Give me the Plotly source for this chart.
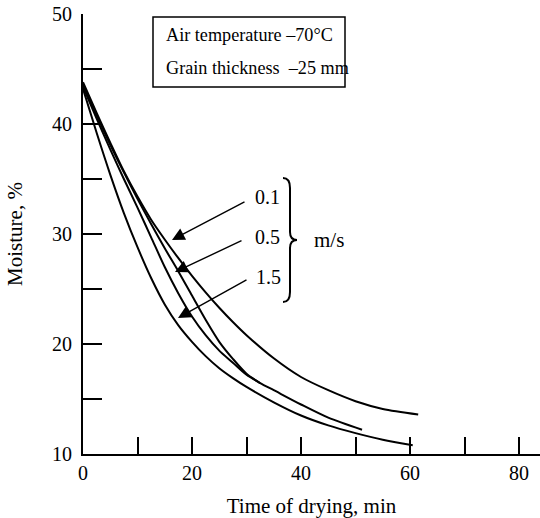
import plotly.graph_objects as go

# ---- data ----
# 0.1 m/s (top curve)
time_01 = [0, 2.5, 5, 7.5, 10, 12.5, 15, 17.5, 20, 22.5, 25, 27.5, 30, 35, 40, 45, 50, 55, 61.5]
moist_01 = [43.8, 41.0, 38.3, 35.7, 33.4, 31.3, 29.5, 27.8, 26.2, 24.7, 23.3, 22.0, 20.8, 18.7, 17.0, 15.8, 14.8, 14.1, 13.6]

# 0.5 m/s (middle curve)
time_05 = [0, 2.5, 5, 7.5, 10, 12.5, 15, 17.5, 20, 22.5, 25, 27.5, 30, 32.5, 35, 40, 45, 51.2]
moist_05 = [43.4, 40.5, 37.7, 35.0, 32.4, 29.7, 27.0, 24.6, 22.5, 20.8, 19.4, 18.3, 17.2, 16.45, 15.8, 14.5, 13.3, 12.2]

# second stroke of the 0.5 m/s curve (upper part, pointed at by the arrow)
time_05b = [0, 2.5, 5, 7.5, 10, 12.5, 15, 17.5, 20, 22.5, 25, 27.5, 30, 32.5]
moist_05b = [43.6, 40.8, 38.1, 35.6, 33.2, 30.9, 28.7, 26.6, 24.4, 22.2, 20.2, 18.65, 17.3, 16.45]

# 1.5 m/s (lowest curve)
time_15 = [0, 2.5, 5, 7.5, 10, 12.5, 15, 17.5, 20, 22.5, 25, 27.5, 30, 35, 40, 45, 50, 55, 60.5]
moist_15 = [43.2, 39.2, 35.4, 31.9, 28.8, 26.0, 23.6, 21.7, 20.2, 18.9, 17.8, 16.9, 16.1, 14.7, 13.5, 12.6, 11.9, 11.3, 10.8]

x_ticks = [0, 10, 20, 30, 40, 50, 60, 70, 80]
x_tick_text = ["0", "", "20", "", "40", "", "60", "", "80"]
y_ticks = [10, 15, 20, 25, 30, 35, 40, 45, 50]
y_tick_text = ["10", "", "20", "", "30", "", "40", "", "50"]

speed_labels = ["0.1", "0.5", "1.5"]
box_lines = ["Air temperature \u201370\u00b0C", "Grain thickness\u00a0 \u201325 mm"]

FONT = "Liberation Serif"

# ---- layout geometry (pixels) ----
W, H = 540, 518
L, T, R, B = 83, 14, 0, 64
PW, PH = W - L - R, H - T - B


def px(x):
    return (x - L) / PW


def py(y):
    return (T + PH - y) / PH


fig = go.Figure()
for t, m in [(time_01, moist_01), (time_05, moist_05), (time_05b, moist_05b), (time_15, moist_15)]:
    fig.add_trace(go.Scatter(x=t, y=m, mode="lines",
                             line=dict(color="black", width=2, shape="spline", smoothing=0.8),
                             showlegend=False, hoverinfo="skip"))

ann = []
# box text
for i, txt in enumerate(box_lines):
    ann.append(dict(text=txt, xref="paper", yref="paper", x=px(164), y=py(35 + 33 * i), xanchor="left",
                    yanchor="middle", showarrow=False, font=dict(family=FONT, size=18.2, color="black")))
# speed labels + arrows
label_pos = [(267, 197), (267, 237), (268, 277)]
tips = [(172, 240), (175, 272), (178, 318)]
tails = [(246, 201), (243, 240), (248, 279)]
for lab, (lx, ly), (tx, ty), (sx, sy) in zip(speed_labels, label_pos, tips, tails):
    ann.append(dict(text=lab, xref="paper", yref="paper", x=px(lx), y=py(ly), xanchor="center",
                    yanchor="middle", showarrow=False, font=dict(family=FONT, size=20, color="black")))
    ann.append(dict(text="", xref="paper", yref="paper", x=px(tx), y=py(ty), ax=sx - tx, ay=sy - ty,
                    showarrow=True, arrowhead=2, arrowsize=1.8, arrowwidth=1.4, arrowcolor="black", standoff=0))
ann.append(dict(text="m/s", xref="paper", yref="paper", x=px(312), y=py(240), xanchor="left",
                yanchor="middle", showarrow=False, font=dict(family=FONT, size=21, color="black")))

# brace path
bx0, bx1, btip = 283, 290, 297
by0, bmid, by1 = 178, 240, 302


def P(x, y):
    return f"{px(x)},{py(y)}"


brace = (f"M{P(bx0, by0)} Q{P(bx1, by0)} {P(bx1, by0 + 10)} L{P(bx1, bmid - 8)} "
         f"Q{P(bx1, bmid)} {P(btip, bmid)} Q{P(bx1, bmid)} {P(bx1, bmid + 8)} "
         f"L{P(bx1, by1 - 10)} Q{P(bx1, by1)} {P(bx0, by1)}")

shapes = [
    dict(type="rect", xref="paper", yref="paper", x0=px(153), x1=px(345), y0=py(17), y1=py(87),
         line=dict(color="black", width=1.5), fillcolor="white", layer="below"),
    dict(type="path", xref="paper", yref="paper", path=brace, line=dict(color="black", width=2)),
]

axis_common = dict(showgrid=False, zeroline=False, showline=True, linecolor="black", linewidth=2,
                   ticks="inside", tickcolor="black", tickwidth=2,
                   tickfont=dict(family=FONT, size=20, color="black"))

fig.update_layout(
    width=W, height=H, margin=dict(l=L, r=R, t=T, b=B),
    plot_bgcolor="white", paper_bgcolor="white",
    xaxis=dict(range=[0, 83.85], tickvals=x_ticks, ticktext=x_tick_text, ticklen=17,
               title=dict(text="Time of drying, min", font=dict(family=FONT, size=21, color="black"), standoff=15),
               **axis_common),
    yaxis=dict(range=[10, 50], tickvals=y_ticks, ticktext=y_tick_text, ticklen=19, ticklabelstandoff=5,
               title=dict(text="Moisture, %", font=dict(family=FONT, size=21, color="black"), standoff=24),
               **axis_common),
    annotations=ann, shapes=shapes,
)

fig.write_html("out.html")
